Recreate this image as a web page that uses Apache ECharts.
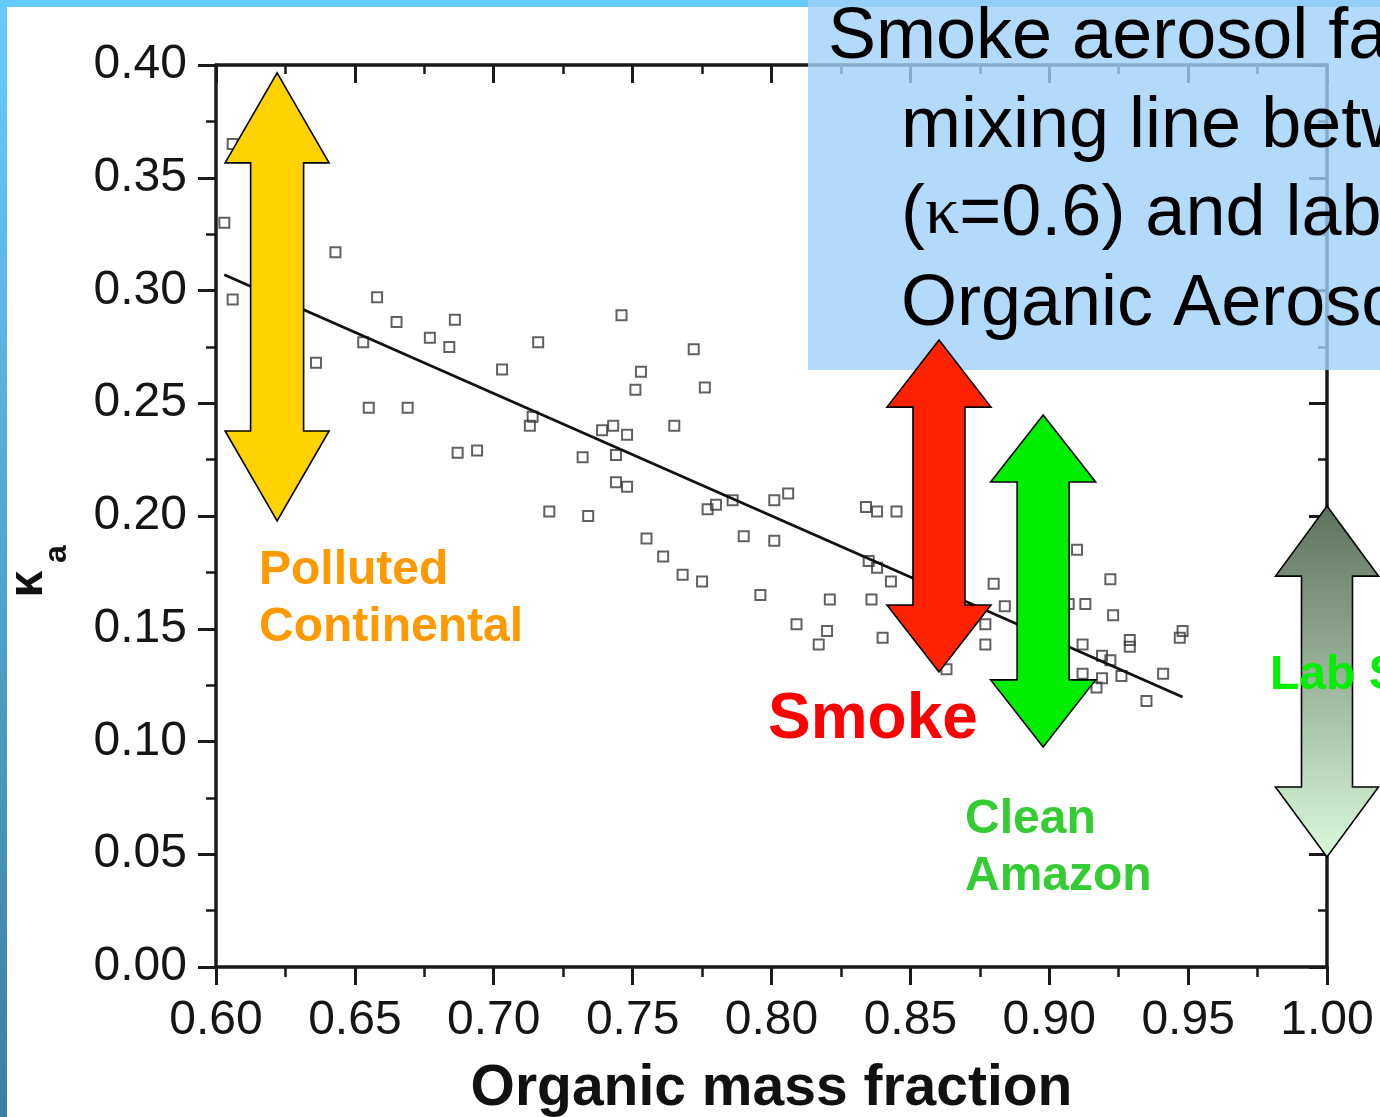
<!DOCTYPE html>
<html>
<head>
<meta charset="utf-8">
<script src="https://cdn.jsdelivr.net/npm/echarts@6/dist/echarts.min.js"></script>
<style>
html,body{margin:0;padding:0;background:#fff;overflow:hidden;}
#chart{width:1380px;height:1117px;}
</style>
</head>
<body>
<div id="chart"></div>
<script>
// ---- data ----
const xTicks = [0.60, 0.65, 0.70, 0.75, 0.80, 0.85, 0.90, 0.95, 1.00];
const yTicks = [0.00, 0.05, 0.10, 0.15, 0.20, 0.25, 0.30, 0.35, 0.40];

const organicFraction = [
  0.603,0.606,0.606,0.643,0.636,0.658,0.653,0.665,0.677,0.684,
  0.686,0.716,0.703,0.714,0.713,0.655,0.669,0.687,0.694,0.746,
  0.772,0.753,0.776,0.751,0.739,0.743,0.748,0.765,0.732,0.744,
  0.744,0.748,0.720,0.734,0.777,0.780,0.786,0.801,0.806,0.834,
  0.838,0.845,0.755,0.761,0.790,0.801,0.768,0.775,0.796,0.821,
  0.835,0.838,0.843,0.836,0.809,0.820,0.817,0.840,0.863,0.880,
  0.884,0.877,0.877,0.910,0.922,0.907,0.913,0.923,0.912,0.919,
  0.922,0.929,0.929,0.948,0.947,0.912,0.919,0.926,0.917,0.941,
  0.935
];
const kappa = [
  0.330,0.365,0.296,0.317,0.268,0.297,0.277,0.286,0.279,0.275,
  0.287,0.277,0.265,0.244,0.240,0.248,0.248,0.228,0.229,0.289,
  0.274,0.264,0.257,0.256,0.238,0.240,0.236,0.240,0.226,0.227,
  0.215,0.213,0.202,0.200,0.203,0.205,0.207,0.207,0.210,0.204,
  0.202,0.202,0.190,0.182,0.191,0.189,0.174,0.171,0.165,0.163,
  0.180,0.177,0.171,0.163,0.152,0.149,0.143,0.146,0.132,0.170,
  0.160,0.152,0.143,0.185,0.172,0.161,0.161,0.156,0.143,0.138,
  0.136,0.145,0.142,0.149,0.146,0.130,0.128,0.129,0.124,0.130,
  0.118
];

// linear fit end points
const fitX = [0.603, 0.948];
const fitY = [0.307, 0.1197];

// range arrows (center x, top y, bottom y) in data units
const arrowNames  = ['Polluted Continental', 'Smoke', 'Clean Amazon', 'Lab SOA'];
const arrowX      = [0.622, 0.8603, 0.8978, 1.000];
const arrowTop    = [0.3965, 0.278, 0.2448, 0.2044];
const arrowBottom = [0.1978, 0.1308, 0.0976, 0.0488];

// ---- styles ----
const arrowStyles = [
  {fill:'#FFD200', head:52, shaft:26.5, headLen:90},
  {fill:'#FF2200', head:52, shaft:26, headLen:67},
  {fill:'#00EE00', head:52.5, shaft:26, headLen:67},
  {fill:'gradient', head:51.5, shaft:25.5, headLen:70}
];

const scatterData = organicFraction.map((x, i) => [x, kappa[i]]);
const fitData = fitX.map((x, i) => [x, fitY[i]]);
const arrowData = arrowX.map((x, i) => [x, arrowTop[i], arrowBottom[i]]);

const chart = echarts.init(document.getElementById('chart'), null, {renderer:'canvas', width:1380, height:1117});

const axisColor = '#1a1a1a';
const fontFam = '"Liberation Sans", Arial, sans-serif';

function fmt(v){ return v.toFixed(2); }

const option = {
  backgroundColor: '#ffffff',
  animation: false,
  grid: {left:216, width:1111, top:65, height:902, containLabel:false, outerBoundsMode:'none'},
  xAxis: [
    {
      type:'value', min:xTicks[0], max:xTicks[xTicks.length-1], interval:0.05, position:'bottom',
      axisLine:{onZero:false, lineStyle:{color:axisColor, width:3.5}},
      axisTick:{inside:false, length:18, lineStyle:{color:axisColor, width:3}},
      minorTick:{show:true, splitNumber:2, length:10, lineStyle:{color:axisColor, width:2.5}},
      splitLine:{show:false},
      axisLabel:{fontSize:48, color:'#151515', margin:30, fontFamily:fontFam, formatter:fmt},
      name:'Organic mass fraction', nameLocation:'middle', nameGap:94,
      nameTextStyle:{fontSize:57, fontWeight:'bold', color:'#111', fontFamily:fontFam}
    },
    {
      type:'value', min:xTicks[0], max:xTicks[xTicks.length-1], interval:0.05, position:'top',
      axisLine:{onZero:false, lineStyle:{color:axisColor, width:3.5}},
      axisTick:{inside:true, length:18, lineStyle:{color:axisColor, width:3}},
      minorTick:{show:true, splitNumber:2, length:9, lineStyle:{color:axisColor, width:2.5}},
      splitLine:{show:false}, axisLabel:{show:false}
    }
  ],
  yAxis: [
    {
      type:'value', min:yTicks[0], max:yTicks[yTicks.length-1], interval:0.05, position:'left',
      axisLine:{onZero:false, lineStyle:{color:axisColor, width:3.5}},
      axisTick:{inside:false, length:18, lineStyle:{color:axisColor, width:3}},
      minorTick:{show:true, splitNumber:2, length:10, lineStyle:{color:axisColor, width:2.5}},
      splitLine:{show:false},
      axisLabel:{fontSize:48, color:'#151515', margin:29, fontFamily:fontFam, formatter:fmt}
    },
    {
      type:'value', min:yTicks[0], max:yTicks[yTicks.length-1], interval:0.05, position:'right',
      axisLine:{onZero:false, lineStyle:{color:axisColor, width:3.5}},
      axisTick:{inside:true, length:18, lineStyle:{color:axisColor, width:3}},
      minorTick:{show:true, splitNumber:2, length:9, lineStyle:{color:axisColor, width:2.5}},
      splitLine:{show:false}, axisLabel:{show:false}
    }
  ],
  series: [
    {
      type:'scatter', xAxisIndex:0, yAxisIndex:0, data:scatterData, z:2,
      symbol:'rect', symbolSize:10,
      itemStyle:{color:'rgba(255,255,255,0)', borderColor:'#3a3a3a', borderWidth:2}
    },
    {
      type:'line', xAxisIndex:0, yAxisIndex:0, data:fitData, z:3,
      symbol:'none', lineStyle:{color:'#111', width:2.8}
    },
    {
      type:'custom', xAxisIndex:0, yAxisIndex:0, data:arrowData, z:10, clip:false,
      encode:{x:0, y:[1,2]},
      renderItem:function(params, api){
        const st = arrowStyles[params.dataIndex];
        const t = api.coord([api.value(0), api.value(1)]);
        const b = api.coord([api.value(0), api.value(2)]);
        const x = t[0], yt = t[1], yb = b[1];
        const pts = [
          [x, yt], [x+st.head, yt+st.headLen], [x+st.shaft, yt+st.headLen],
          [x+st.shaft, yb-st.headLen], [x+st.head, yb-st.headLen], [x, yb],
          [x-st.head, yb-st.headLen], [x-st.shaft, yb-st.headLen],
          [x-st.shaft, yt+st.headLen], [x-st.head, yt+st.headLen]
        ];
        let fill = st.fill;
        if (fill === 'gradient') {
          fill = new echarts.graphic.LinearGradient(0,0,0,1,[
            {offset:0, color:'#5d725d'}, {offset:1, color:'#d9f9d9'}
          ]);
        }
        return {type:'polygon', shape:{points:pts}, style:{fill:fill, stroke:'#000', lineWidth:1.6, lineJoin:'miter'}};
      }
    }
  ],
  graphic: [
    // frame strips
    {type:'rect', left:0, top:0, z:0, shape:{width:1380, height:7}, style:{fill:'#66CCFF'}},
    {type:'rect', left:0, top:0, z:0, shape:{width:7, height:1117},
      style:{fill:new echarts.graphic.LinearGradient(0,0,0,1,[{offset:0,color:'#66CCFF'},{offset:1,color:'#3c7ea3'}])}},
    // blue note box
    {type:'rect', left:808, top:0, z:1, shape:{width:572, height:370}, style:{fill:'rgba(160,208,250,0.8)'}},
    {type:'text', x:828, y:38, z:50, style:{text:'Smoke aerosol falls on', fontSize:72, fontFamily:fontFam, fill:'#000', textAlign:'left', textVerticalAlign:'middle'}},
    {type:'text', x:901, y:127, z:50, style:{text:'mixing line between sulfate', fontSize:72, fontFamily:fontFam, fill:'#000', textAlign:'left', textVerticalAlign:'middle'}},
    {type:'text', x:901, y:215, z:50, style:{
      text:'{n|(}{k|κ}{n|=0.6) and lab}', textAlign:'left', textVerticalAlign:'middle',
      rich:{n:{fontSize:72, fontFamily:fontFam, fill:'#000', color:'#000'}, k:{fontSize:68, fontFamily:'"Liberation Serif", "DejaVu Serif", serif', fill:'#000', color:'#000'}}
    }},
    {type:'text', x:901, y:305, z:50, style:{text:'Organic Aerosol', fontSize:72, fontFamily:fontFam, fill:'#000', textAlign:'left', textVerticalAlign:'middle'}},
    // annotation labels
    {type:'text', x:259, y:571, z:50, style:{text:'Polluted', fontSize:48, fontWeight:'bold', fontFamily:fontFam, fill:'#FF9900', textAlign:'left', textVerticalAlign:'middle'}},
    {type:'text', x:259, y:628, z:50, style:{text:'Continental', fontSize:48, fontWeight:'bold', fontFamily:fontFam, fill:'#FF9900', textAlign:'left', textVerticalAlign:'middle'}},
    {type:'text', x:768, y:720, z:50, style:{text:'Smoke', fontSize:64, fontWeight:'bold', fontFamily:fontFam, fill:'#FF0000', textAlign:'left', textVerticalAlign:'middle'}},
    {type:'text', x:965, y:820, z:50, style:{text:'Clean', fontSize:48, fontWeight:'bold', fontFamily:fontFam, fill:'#33CC33', textAlign:'left', textVerticalAlign:'middle'}},
    {type:'text', x:965, y:877, z:50, style:{text:'Amazon', fontSize:48, fontWeight:'bold', fontFamily:fontFam, fill:'#33CC33', textAlign:'left', textVerticalAlign:'middle'}},
    {type:'text', x:1270, y:676, z:50, style:{text:'Lab SOA', fontSize:48, fontWeight:'bold', fontFamily:fontFam, fill:'#00EE00', textAlign:'left', textVerticalAlign:'middle'}},
    // y axis title (kappa_a)
    {type:'text', x:29, y:584, z:50, rotation:Math.PI/2, style:{text:'κ', fontSize:48, fontWeight:'bold', fontFamily:fontFam, fill:'#111', textAlign:'center', textVerticalAlign:'middle'}},
    {type:'text', x:57, y:554, z:50, rotation:Math.PI/2, style:{text:'a', fontSize:32, fontWeight:'bold', fontFamily:fontFam, fill:'#111', textAlign:'center', textVerticalAlign:'middle'}}
  ]
};

chart.setOption(option);
</script>
</body>
</html>
